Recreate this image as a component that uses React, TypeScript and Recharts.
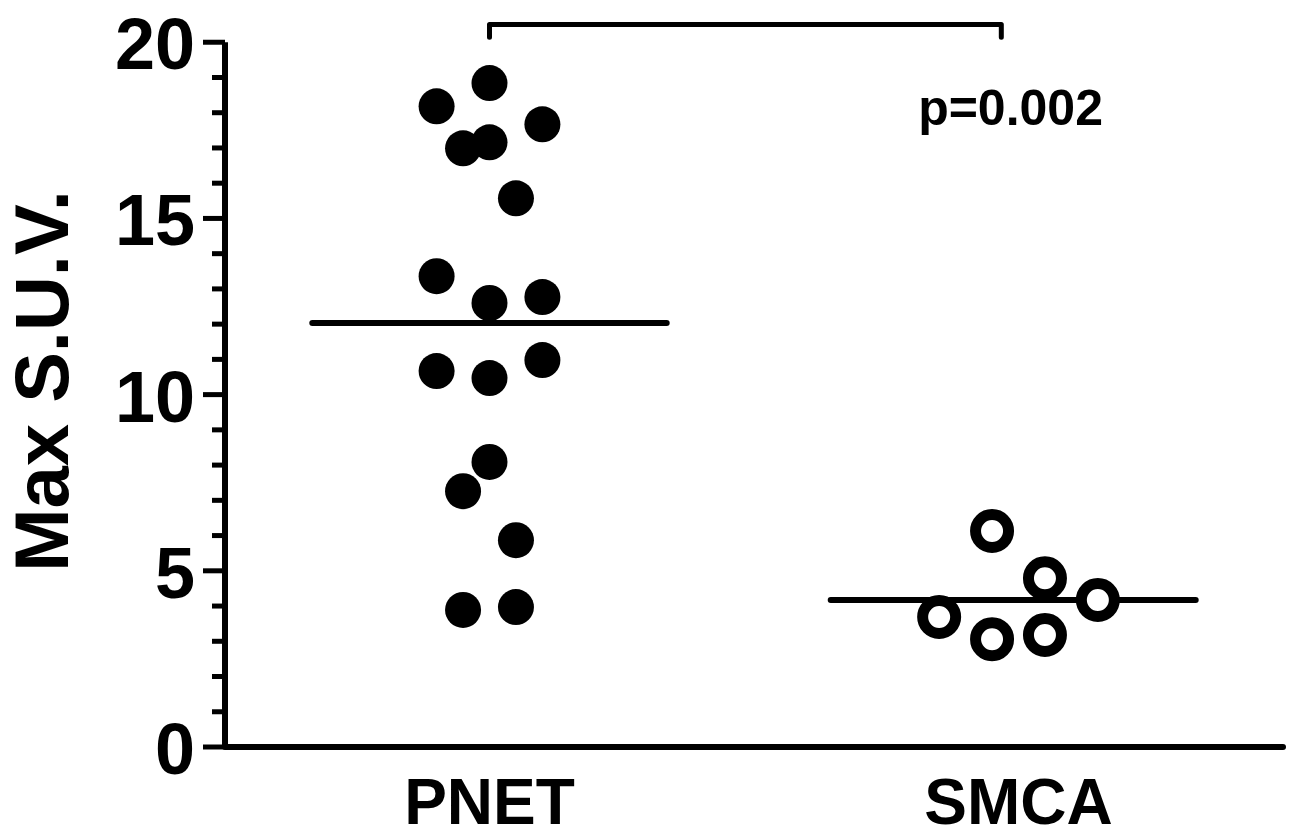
import React from 'react';
import { ScatterChart, Scatter, XAxis, YAxis, ReferenceLine, Label } from 'recharts';

const categories = ['PNET', 'SMCA'];
const categoryPositions = [10, 30];
const yTicks = [0, 1, 2, 3, 4, 5, 6, 7, 8, 9, 10, 11, 12, 13, 14, 15, 16, 17, 18, 19, 20];

const pnetValues = [18.84, 18.18, 17.67, 16.99, 17.16, 15.57, 13.36, 12.6, 12.77, 10.67, 10.47, 10.98, 8.09, 7.26, 5.87, 3.89, 3.97];
const pnetOffsets = [0, -2, 2, -1, 0, 1, -2, 0, 2, -2, 0, 2, 0, -1, 1, -1, 1];

const smcaValues = [6.13, 4.79, 4.17, 3.69, 3.06, 3.18];
const smcaOffsets = [-1, 1, 3, -3, -1, 1];

const medians = [12.03, 4.17];
const medianStart = [3.3, 22.9];
const medianEnd = [16.7, 36.7];

const bracketX = [10, 29.35];
const bracketTop = 20.5;
const bracketBottom = 20.14;

const pValueText = 'p=0.002';
const pValuePos = { x: 29.7, y: 17.65 };

const yAxisTitle = 'Max S.U.V.';

const FONT = '"Liberation Sans", Arial, Helvetica, sans-serif';

const pnetData = pnetValues.map((v, i) => ({ x: categoryPositions[0] + pnetOffsets[i], y: v }));
const smcaData = smcaValues.map((v, i) => ({ x: categoryPositions[1] + smcaOffsets[i], y: v }));
const medianData = medians.map((m, i) => [
  { x: medianStart[i], y: m },
  { x: medianEnd[i], y: m },
]);
const bracketData = [
  { x: bracketX[0], y: bracketBottom },
  { x: bracketX[0], y: bracketTop },
  { x: bracketX[1], y: bracketTop },
  { x: bracketX[1], y: bracketBottom },
];
const pData = [{ x: pValuePos.x, y: pValuePos.y, label: pValueText }];

const YTick = (props: any) => {
  const { x, y, payload } = props;
  const major = payload.value % 5 === 0;
  const len = major ? 22 : 13;
  return (
    <g>
      <line x1={x - len} x2={x} y1={y} y2={y} stroke="#000" strokeWidth={5} />
      {major && (
        <text x={x - 30} y={y + 27} textAnchor="end" fontFamily={FONT} fontWeight={700} fontSize={72} fill="#000">
          {payload.value}
        </text>
      )}
    </g>
  );
};

const XTick = (props: any) => {
  const { x, y, payload } = props;
  const idx = categoryPositions.indexOf(payload.value);
  return (
    <text x={x} y={y + 77} textAnchor="middle" fontFamily={FONT} fontWeight={700} fontSize={64} fill="#000">
      {categories[idx]}
    </text>
  );
};

const YLabel = (props: any) => {
  const vb = props.viewBox || { x: 0, y: 7, width: 225, height: 740 };
  const cx = vb.x + 68;
  const cy = vb.y + vb.height / 2 + 4;
  return (
    <text
      x={cx}
      y={cy}
      transform={`rotate(-90, ${cx}, ${cy})`}
      textAnchor="middle"
      fontFamily={FONT}
      fontWeight={700}
      fontSize={76}
      fill="#000"
    >
      {yAxisTitle}
    </text>
  );
};

const FilledDot = (props: any) => <circle cx={props.cx} cy={props.cy} r={18} fill="#000" />;
const OpenDot = (props: any) => (
  <circle cx={props.cx} cy={props.cy} r={16.5} fill="#fff" stroke="#000" strokeWidth={11} />
);
const NoDot = () => <g />;
const PText = (props: any) => (
  <text x={props.cx} y={props.cy} textAnchor="middle" fontFamily={FONT} fontWeight={700} fontSize={50} fill="#000">
    {props.payload.label}
  </text>
);

export default function App() {
  return (
    <div style={{ position: 'absolute', left: 0, top: 0, width: 1291, height: 839, background: '#fff' }}>
      <ScatterChart width={1291} height={839} margin={{ top: 7, right: 8, bottom: 0, left: 0 }}>
        <XAxis
          dataKey="x"
          type="number"
          domain={[0, 40]}
          ticks={categoryPositions}
          interval={0}
          tickLine={false}
          tickSize={0}
          tickMargin={0}
          tick={<XTick />}
          height={92}
          axisLine={{ stroke: '#000', strokeWidth: 6, strokeLinecap: 'round' }}
        />
        <YAxis
          dataKey="y"
          type="number"
          domain={[0, 21]}
          ticks={yTicks}
          interval={0}
          width={225}
          axisLine={false}
          tickLine={false}
          tickSize={0}
          tickMargin={0}
          tick={<YTick />}
        >
          <Label content={<YLabel />} />
        </YAxis>
        <ReferenceLine
          segment={[
            { x: 0, y: 0 },
            { x: 0, y: 20 },
          ]}
          stroke="#000"
          strokeWidth={6}
        />
        {medianData.map((d, i) => (
          <Scatter
            key={`m${i}`}
            data={d}
            line={{ stroke: '#000', strokeWidth: 6, strokeLinecap: 'round' }}
            stroke="#000"
            fill="none"
            shape={<NoDot />}
            isAnimationActive={false}
          />
        ))}
        <Scatter
          data={bracketData}
          line={{ stroke: '#000', strokeWidth: 5, strokeLinecap: 'round', strokeLinejoin: 'round' }}
          stroke="#000"
          fill="none"
          shape={<NoDot />}
          isAnimationActive={false}
        />
        <Scatter data={pnetData} fill="#000" shape={<FilledDot />} isAnimationActive={false} />
        <Scatter data={smcaData} fill="#fff" shape={<OpenDot />} isAnimationActive={false} />
        <Scatter data={pData} fill="#000" shape={<PText />} isAnimationActive={false} />
      </ScatterChart>
    </div>
  );
}
